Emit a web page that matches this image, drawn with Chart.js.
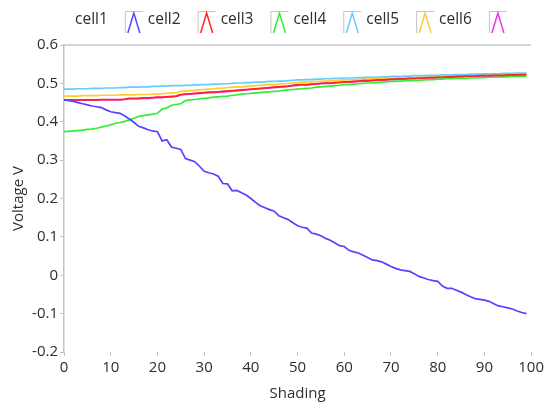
<!DOCTYPE html>
<html>
<head>
<meta charset="utf-8">
<script src="https://cdn.jsdelivr.net/npm/chart.js@4.4.0/dist/chart.umd.min.js"></script>
<style>
  html, body { margin: 0; padding: 0; background: #fff; }
  #wrap { width: 547px; height: 403px; position: relative; }
</style>
</head>
<body>
<div id="wrap"><canvas id="voltChart" width="547" height="403"></canvas></div>
<script>
// ---- data ----
const shading = [0,1,2,3,4,5,6,7,8,9,10,11,12,13,14,15,16,17,18,19,20,21,22,23,24,25,26,27,28,29,
  30,31,32,33,34,35,36,37,38,39,40,41,42,43,44,45,46,47,48,49,50,51,52,53,54,55,56,57,58,59,
  60,61,62,63,64,65,66,67,68,69,70,71,72,73,74,75,76,77,78,79,80,81,82,83,84,85,86,87,88,89,
  90,91,92,93,94,95,96,97,98,99];

const cellNames = ['cell1', 'cell2', 'cell3', 'cell4', 'cell5', 'cell6'];

const cell1 = [.457,.455,.453,.450,.447,.444,.441,.439,.437,.431,
  .426,.424,.422,.415,.407,.398,.388,.384,.379,.376,
  .374,.350,.353,.334,.331,.328,.304,.300,.296,.284,
  .271,.267,.264,.258,.239,.238,.220,.221,.215,.209,
  .200,.190,.181,.176,.171,.167,.155,.150,.145,.137,
  .129,.125,.123,.110,.107,.103,.096,.091,.084,.077,
  .075,.065,.061,.058,.052,.046,.040,.038,.035,.029,
  .023,.018,.014,.012,.010,.004,-.003,-.007,-.011,-.014,
  -.016,-.028,-.034,-.034,-.039,-.044,-.050,-.056,-.061,-.063,
  -.065,-.068,-.074,-.080,-.082,-.085,-.088,-.093,-.097,-.100];

const cell2 = [.457,.457,.457,.457,.457,.457,.457,.457,.458,.458,
  .458,.458,.458,.459,.461,.461,.461,.462,.462,.463,
  .464,.464,.465,.466,.467,.471,.472,.473,.474,.475,
  .476,.477,.477,.478,.479,.480,.481,.482,.483,.484,
  .485,.486,.487,.488,.489,.490,.491,.492,.493,.495,
  .496,.497,.497,.498,.499,.500,.501,.501,.502,.503,
  .504,.504,.505,.506,.507,.507,.508,.509,.509,.510,
  .511,.511,.512,.512,.513,.513,.514,.514,.515,.515,
  .516,.516,.517,.517,.518,.518,.519,.519,.519,.520,
  .520,.520,.521,.521,.521,.522,.522,.522,.523,.523];

const cell3 = [.374,.375,.376,.377,.378,.380,.381,.383,.386,.389,
  .392,.396,.398,.401,.405,.409,.414,.416,.418,.420,
  .422,.433,.436,.443,.445,.447,.455,.457,.458,.460,
  .461,.462,.464,.465,.466,.467,.469,.470,.472,.473,
  .474,.475,.476,.477,.478,.479,.480,.482,.483,.484,
  .485,.486,.487,.488,.490,.491,.492,.493,.494,.495,
  .497,.497,.498,.499,.500,.501,.501,.502,.503,.504,
  .505,.505,.506,.507,.507,.508,.508,.509,.510,.510,
  .511,.511,.512,.512,.513,.513,.513,.514,.514,.515,
  .515,.516,.516,.516,.517,.517,.518,.518,.518,.519];

const cell4 = [.485,.485,.485,.486,.486,.486,.487,.487,.487,.488,
  .488,.488,.489,.489,.490,.490,.490,.491,.491,.492,
  .492,.493,.493,.494,.494,.494,.495,.495,.496,.496,
  .497,.497,.498,.498,.499,.499,.500,.501,.501,.502,
  .502,.503,.503,.504,.505,.505,.506,.506,.507,.508,
  .509,.509,.510,.510,.511,.511,.512,.512,.513,.513,
  .514,.514,.514,.515,.515,.516,.516,.516,.517,.517,
  .518,.518,.518,.519,.519,.520,.520,.520,.521,.521,
  .521,.522,.522,.522,.523,.523,.523,.524,.524,.524,
  .525,.525,.525,.525,.526,.526,.526,.527,.527,.527];

const cell5 = [.467,.467,.467,.467,.468,.468,.468,.468,.469,.469,
  .469,.469,.470,.470,.470,.470,.471,.471,.471,.472,
  .472,.473,.474,.475,.475,.479,.480,.481,.482,.483,
  .484,.485,.486,.487,.488,.489,.490,.491,.491,.492,
  .493,.494,.495,.496,.497,.497,.498,.499,.500,.501,
  .502,.503,.503,.504,.505,.505,.506,.507,.507,.508,
  .509,.509,.510,.510,.511,.511,.512,.512,.513,.513,
  .514,.514,.515,.515,.515,.516,.516,.517,.517,.517,
  .518,.518,.518,.519,.519,.519,.520,.520,.520,.521,
  .521,.521,.522,.522,.522,.523,.523,.523,.524,.524];

const cell6 = [.456,.456,.456,.456,.456,.456,.456,.456,.457,.457,
  .457,.457,.457,.458,.460,.460,.460,.461,.461,.462,
  .463,.463,.464,.465,.466,.470,.471,.472,.473,.474,
  .475,.476,.476,.477,.478,.479,.480,.481,.482,.483,
  .484,.485,.486,.487,.488,.489,.490,.491,.492,.494,
  .495,.496,.496,.497,.498,.499,.500,.500,.501,.502,
  .503,.503,.504,.505,.506,.506,.507,.508,.508,.509,
  .510,.510,.511,.511,.512,.512,.513,.513,.514,.514,
  .515,.515,.516,.516,.517,.517,.518,.518,.518,.519,
  .519,.519,.520,.520,.520,.521,.521,.521,.522,.522];

const yTicks = [-0.2, -0.1, 0, 0.1, 0.2, 0.3, 0.4, 0.5, 0.6];
const xTicks = [0, 10, 20, 30, 40, 50, 60, 70, 80, 90, 100];

const seriesValues = [cell1, cell2, cell3, cell4, cell5, cell6];
const seriesColors = ['#5544ff', '#ff2222', '#33ee33', '#66ccff', '#ffcc33', '#ee33ee'];

const FONT = "'Open Sans', 'Noto Sans', sans-serif";
const TEXT = '#2e2e2e';
const FRAME = '#c4c4c4';

// legend is "label, then icon": cell1 [icon] cell2 [icon] ... last icon has no label
const legendPlugin = {
    id: 'labelIconLegend',
    afterDraw(chart) {
        const ctx = chart.ctx;
        ctx.save();
        ctx.font = '15.5px ' + FONT;
        ctx.textBaseline = 'middle';
        let x = 75;
        const y = 20;
        cellNames.forEach(function(name, i) {
            ctx.fillStyle = TEXT;
            ctx.fillText(name, x, y);
            x += ctx.measureText(name).width + 17;
            // icon box: grey top and left edges with a coloured caret
            ctx.strokeStyle = FRAME;
            ctx.lineWidth = 1;
            ctx.beginPath();
            ctx.moveTo(x + 0.5, 33);
            ctx.lineTo(x + 0.5, 11.5);
            ctx.lineTo(x + 18, 11.5);
            ctx.stroke();
            ctx.strokeStyle = seriesColors[i];
            ctx.lineWidth = 1.5;
            ctx.beginPath();
            ctx.moveTo(x + 3, 33);
            ctx.lineTo(x + 9, 13);
            ctx.lineTo(x + 15, 33);
            ctx.stroke();
            x += 23;
        });
        ctx.restore();
    }
};

// grey line along the top of the plot
const topFramePlugin = {
    id: 'topFrame',
    beforeDatasetsDraw(chart) {
        const a = chart.chartArea;
        const ctx = chart.ctx;
        ctx.save();
        ctx.strokeStyle = FRAME;
        ctx.lineWidth = 1.5;
        ctx.beginPath();
        ctx.moveTo(a.left, a.top);
        ctx.lineTo(a.right, a.top);
        ctx.stroke();
        ctx.restore();
    }
};

const datasets = cellNames.map(function(name, i) {
    return {
        label: name,
        data: shading.map(function(s, k) { return { x: s, y: seriesValues[i][k] }; }),
        borderColor: seriesColors[i],
        backgroundColor: seriesColors[i],
        borderWidth: 1.7,
        pointRadius: 0,
        tension: 0,
        fill: false
    };
});

const ctx = document.getElementById('voltChart').getContext('2d');
new Chart(ctx, {
    type: 'line',
    data: { datasets: datasets },
    options: {
        responsive: false,
        animation: false,
        layout: { padding: { top: 45, right: 15, left: 10, bottom: 0 } },
        plugins: {
            legend: { display: false },
            tooltip: { enabled: false }
        },
        scales: {
            x: {
                type: 'linear',
                min: 0,
                max: 100,
                afterBuildTicks(scale) { scale.ticks = xTicks.map(function(v) { return { value: v }; }); },
                afterFit(scale) { scale.height = 51; },
                border: { display: false },
                grid: { display: true, drawOnChartArea: false, drawTicks: true, tickLength: 4, color: FRAME },
                ticks: { color: TEXT, font: { family: FONT, size: 15 }, padding: 3, maxRotation: 0 },
                title: { display: true, text: 'Shading', color: TEXT, font: { family: FONT, size: 15 }, padding: { top: 0, bottom: 0 } }
            },
            y: {
                min: -0.2,
                max: 0.6,
                afterBuildTicks(scale) { scale.ticks = yTicks.map(function(v) { return { value: v }; }); },
                afterFit(scale) { scale.width = 54; },
                border: { display: true, color: FRAME, width: 1.5 },
                grid: { display: true, drawOnChartArea: false, drawTicks: true, tickLength: 4, color: FRAME },
                ticks: { color: TEXT, font: { family: FONT, size: 15 }, padding: 2 },
                title: { display: true, text: 'Voltage V', color: TEXT, font: { family: FONT, size: 15 }, padding: { top: 0, bottom: 0 } }
            }
        }
    },
    plugins: [legendPlugin, topFramePlugin]
});
</script>
</body>
</html>
